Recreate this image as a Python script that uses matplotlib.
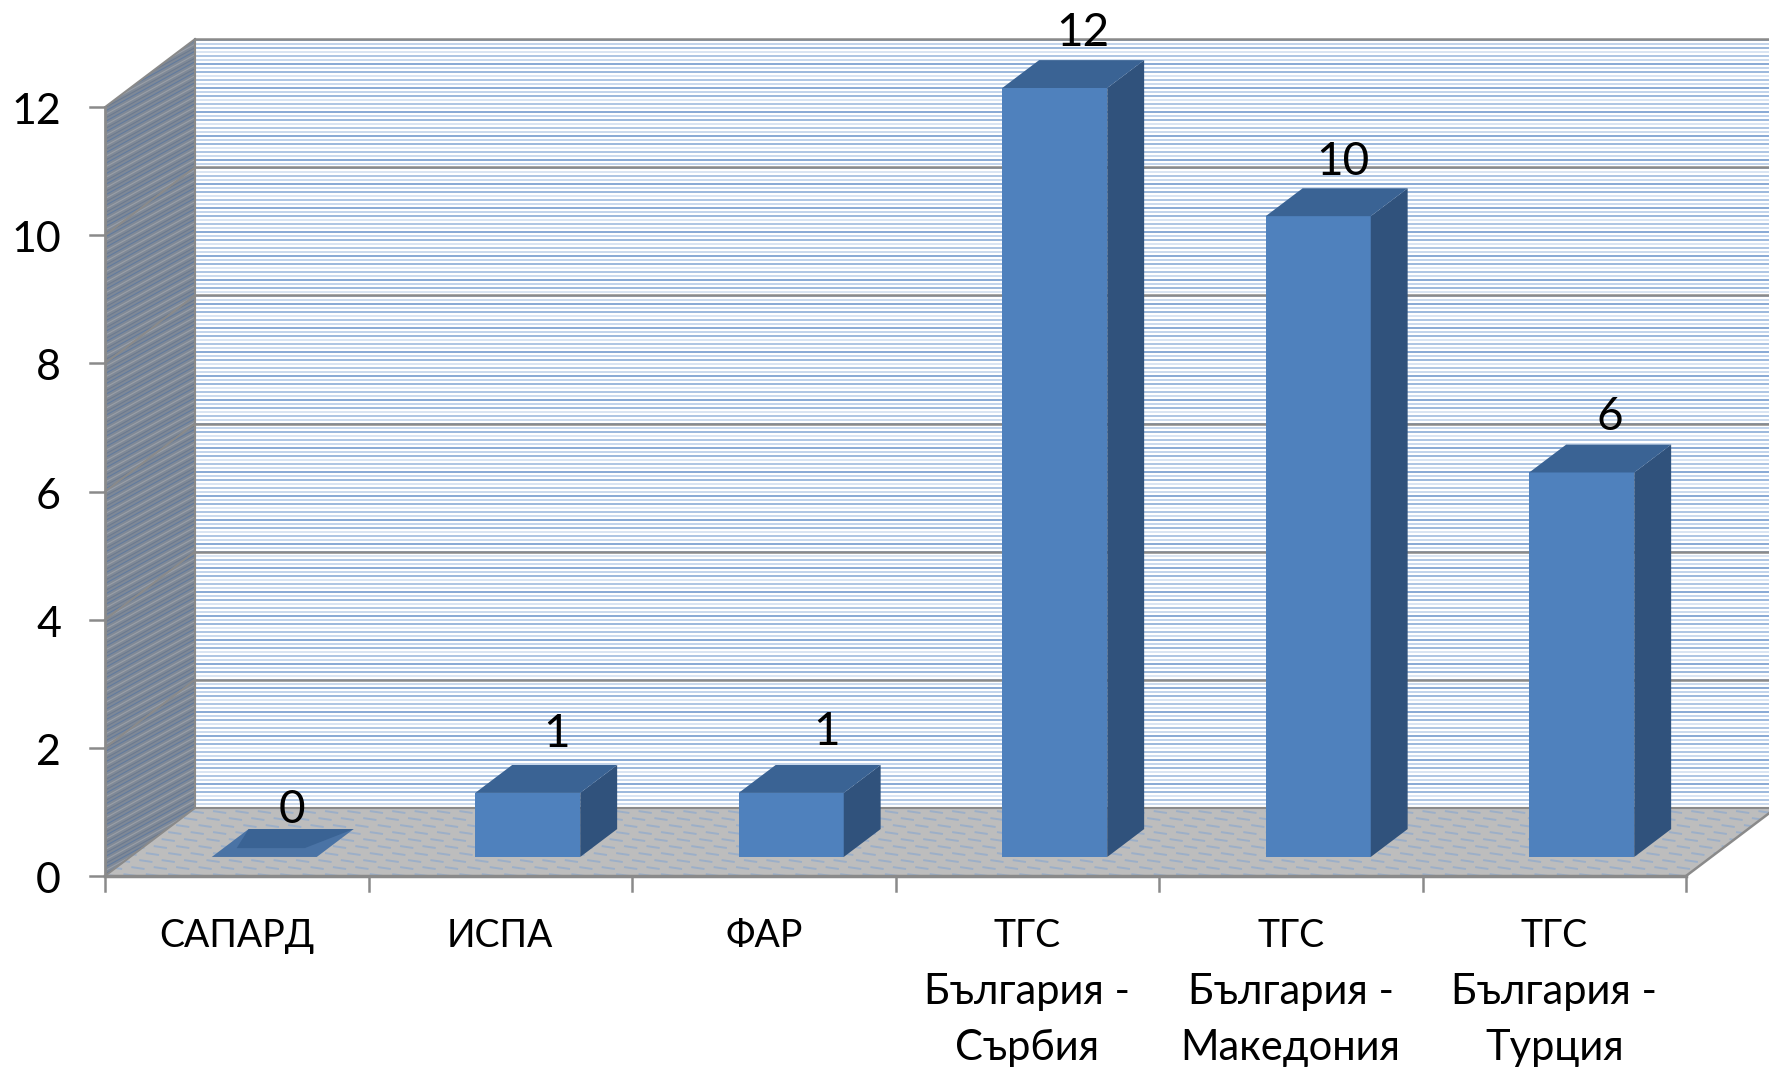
import numpy as np
import matplotlib
matplotlib.use('Agg')
import matplotlib.pyplot as plt
from matplotlib.collections import LineCollection
from matplotlib.patches import Polygon

plt.rcParams['font.family'] = ['Lato', 'Noto Sans', 'DejaVu Sans']

categories = ['САПАРД', 'ИСПА', 'ФАР', 'ТГС\nБългария -\nСърбия', 'ТГС\nБългария -\nМакедония', 'ТГС\nБългария -\nТурция']
values = [0, 1, 1, 12, 10, 6]
labels = ['0', '1', '1', '12', '10', '6']
y_ticks = [0, 2, 4, 6, 8, 10, 12]

W, H = 1769, 1067
X0, Y0 = 105, 876       # pixel position of the front corner
CAT_W = 263.5
UNIT = 64.08
DX = 90 / CAT_W         # wall depth in data units
DY = 68 / UNIT
GREY = '#8a8a8a'
# small per label nudges in pixels, the labels are not placed evenly in the original
NUDGE_X = [0, 1, 8, 0, -3, 0]
NUDGE_Y = [-15, -3, -1, -7, -8, -6]


def depth(x, v, d):
    return x + d * DX, v + d * DY


fig = plt.figure(figsize=(W / 100, H / 100), dpi=100)
ax = fig.add_axes([0, 0, 1, 1])
ax.set_xlim(-X0 / CAT_W, (W - X0) / CAT_W)
ax.set_ylim(-(H - Y0) / UNIT, Y0 / UNIT)
ax.axis('off')
n = len(categories)
top = max(y_ticks)

# back wall
back = Polygon([depth(0, 0, 1), depth(n + .2, 0, 1), depth(n + .2, top, 1), depth(0, top, 1)], fc='white', ec='none', zorder=1)
ax.add_patch(back)
stripe_cols = ['#7fa3d1', '#c6d7ec', '#a7c0e0', '#d6e2f1', '#93b2d9', '#bcd0e9']
ys = np.arange(DY, top + DY, 4 / UNIT)
segs = [[(0 + DX, y), (n + 1, y)] for y in ys]
lc = LineCollection(segs, colors=[stripe_cols[i % 6] for i in range(len(ys))], linewidths=1.3, zorder=2)
ax.add_collection(lc)
lc.set_clip_path(back)

# left wall
left = Polygon([depth(0, 0, 0), depth(0, 0, 1), depth(0, top, 1), depth(0, top, 0)], fc='#7f8997', ec='none', zorder=1)
ax.add_patch(left)
segs = []
for v in np.arange(-2, top + 4, 3.5 / UNIT):
    segs.append([(-.1, v), (.5, v + .6 * CAT_W / UNIT * .55)])
lc = LineCollection(segs, colors=[['#6c7a8f', '#9a9fa7', '#627b9e'][i % 3] for i in range(len(segs))], linewidths=.8, zorder=2)
ax.add_collection(lc)
lc.set_clip_path(left)

# floor
floor = Polygon([depth(0, 0, 0), depth(n, 0, 0), depth(n, 0, 1), depth(0, 0, 1)], fc='#bdbdbd', ec='none', zorder=1)
ax.add_patch(floor)
segs = []
for r, v in enumerate(np.arange(0, DY, 7 / UNIT)):
    for x in np.arange(-.1 + (r % 3) * .03, n + 1, .085):
        segs.append([(x, v + .03), (x + .05, v)])
lc = LineCollection(segs, colors='#9cafc8', linewidths=1.4, zorder=2)
ax.add_collection(lc)
lc.set_clip_path(floor)

# grid and frame
for v in y_ticks:
    if v > 0:
        ax.plot([DX, n + 1], [v + DY, v + DY], color=GREY, lw=1.8, zorder=3)
    ax.plot([0, DX], [v, v + DY], color=GREY, lw=1.4, zorder=3)
    ax.plot([-15 / CAT_W, 0], [v, v], color=GREY, lw=1.8, zorder=3)
    ax.text(-44 / CAT_W, v - 5 / UNIT, str(v), ha='right', va='center', fontsize=31, zorder=6)
ax.plot([0, 0], [0, top], color=GREY, lw=2, zorder=3)
ax.plot([DX, DX], [DY, top + DY], color=GREY, lw=1.5, zorder=3)
ax.plot([DX, n + 1], [DY, DY], color=GREY, lw=1.5, zorder=3)
ax.plot([0, n], [0, 0], color=GREY, lw=2.5, zorder=3)
ax.plot([n, n + DX], [0, DY], color=GREY, lw=1.8, zorder=3)
for i in range(n + 1):
    ax.plot([i, i], [0, -15 / UNIT], color=GREY, lw=1.8, zorder=3)

# bars
BAR_W = 105 / CAT_W
D0, D1 = 0.28, 0.69
SHIFT = 2.3 / CAT_W
for i, (val, lab, cat) in enumerate(zip(values, labels, categories)):
    x0 = i + .5 - BAR_W / 2 + SHIFT
    x1 = x0 + BAR_W
    top_face = [depth(x0, val, D0), depth(x1, val, D0), depth(x1, val, D1), depth(x0, val, D1)]
    if val > 0:
        ax.add_patch(Polygon([depth(x0, 0, D0), depth(x1, 0, D0), depth(x1, val, D0), depth(x0, val, D0)], fc='#4f81bd', ec='none', zorder=4))
        ax.add_patch(Polygon([depth(x1, 0, D0), depth(x1, 0, D1), depth(x1, val, D1), depth(x1, val, D0)], fc='#30527c', ec='none', zorder=4))
        ax.add_patch(Polygon(top_face, fc='#3a6394', ec='none', zorder=4))
    else:
        ax.add_patch(Polygon(top_face, fc='#4a73a5', ec='none', zorder=4))
        ax.add_patch(Polygon([depth(x0, val, D1), depth(x1, val, D1), depth(x1 - .09, val, D0 + .13), depth(x0 + .05, val, D0 + .13)], fc='#3a6394', ec='none', zorder=4))
    tx, ty = depth(i + .5, val, D1)
    ax.annotate(lab, (tx, ty), xytext=(-7 + NUDGE_X[i], 34 + NUDGE_Y[i]), textcoords='offset pixels', ha='center', va='center', fontsize=33, zorder=6)
    # Lato capitals run wider than the original font, so all caps lines get a smaller size
    for j, line in enumerate(cat.split('\n')):
        ax.text(i + .5, -(60 + 56 * j) / UNIT, line, ha='center', va='center', fontsize=27 if line.isupper() else 30, zorder=6)

fig.savefig('out.png', dpi=100)
